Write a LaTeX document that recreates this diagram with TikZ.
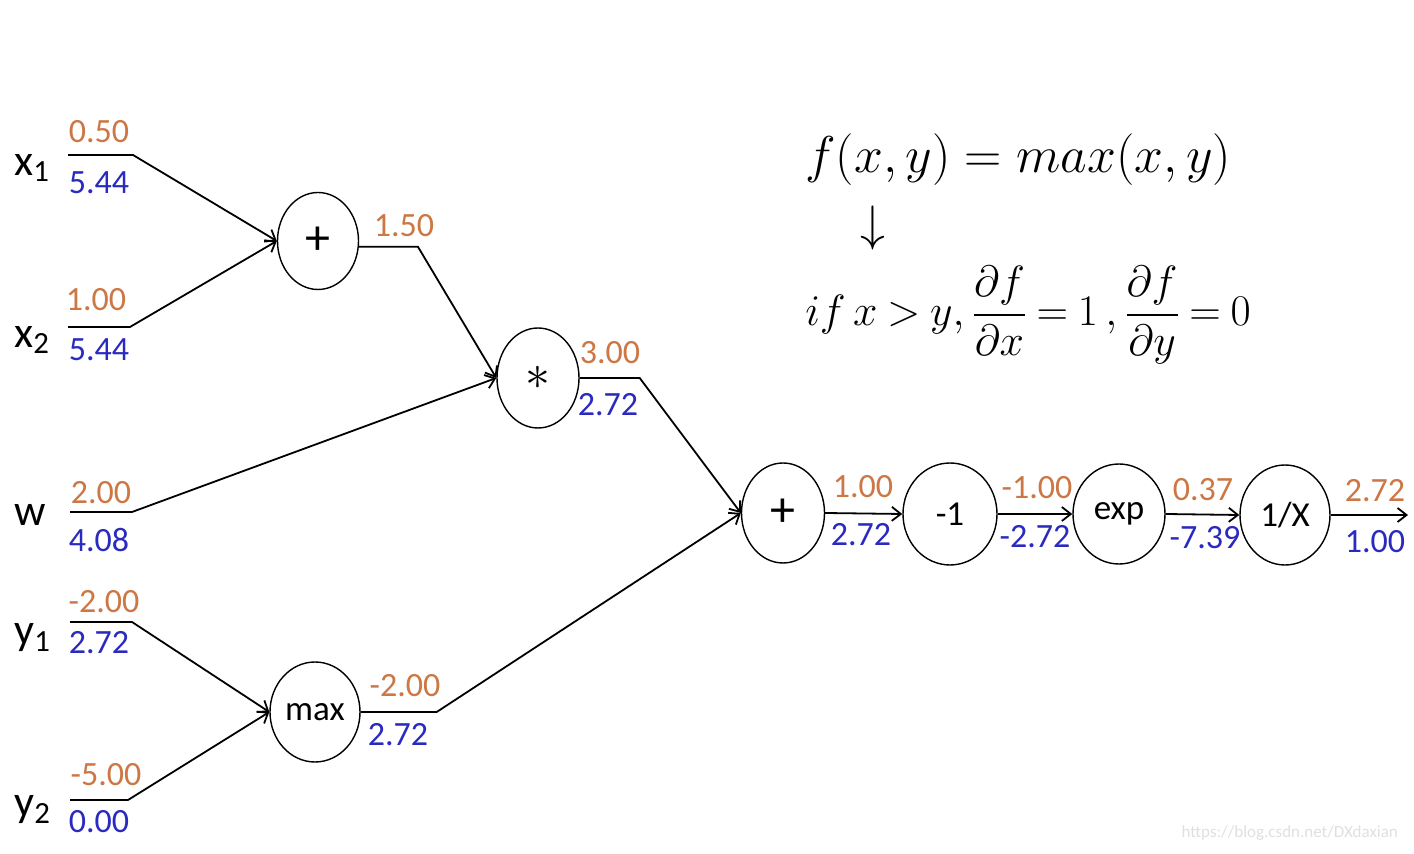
\documentclass[tikz,border=0pt]{standalone}
\usepackage{fontspec}
\setmainfont{Carlito}
\usepackage{amsmath}
\usetikzlibrary{arrows.meta,positioning,shapes.geometric}
\definecolor{fwd}{HTML}{CC7744}
\definecolor{bwd}{HTML}{2A2AC0}

\begin{document}
\begin{tikzpicture}[
  x=0.5pt, y=-0.5pt,
  op/.style={draw, ellipse, line width=0.7pt, minimum width=41pt, minimum height=50pt, inner sep=0pt, font=\fontsize{17.5}{19}\selectfont},
  big/.style={font=\fontsize{25}{27}\selectfont},
  fv/.style={text=fwd, font=\fontsize{17}{19}\selectfont, inner sep=0pt},
  bv/.style={text=bwd, font=\fontsize{17}{19}\selectfont, inner sep=0pt},
  var/.style={anchor=west, font=\fontsize{22}{24}\selectfont, inner sep=0pt},
  eq/.style={anchor=west, font=\fontsize{24.88}{30}\selectfont, inner sep=0pt, transform shape},
  arr/.style={-{Straight Barb[length=4.5pt, width=7pt]}, line width=0.9pt}
]
\useasboundingbox[fill=white] (0,0) rectangle (1414,854);

% operation nodes
\node[op, big, minimum width=40.5pt, minimum height=48.5pt] (add1) at (318,241) {+};
\node[op, big] (mul) at (538,378) {$*$};
\node[op, minimum width=45pt] (mx) at (315,712) {max};
\node[op, big, minimum width=41.5pt] (add2) at (783,513) {+};
\node[op, minimum width=47pt, minimum height=51pt] (neg) at (950,514) {-1};
\node[op, minimum width=46pt] (ex) at (1119,514) {exp};
\node[op, minimum width=45pt] (inv) at (1285,515) {1/X};
\coordinate (out) at (1408,515);

% inputs
\node[var] (x1) at (14,168) {x\textsubscript{1}};
\node[var] (x2) at (14,340) {x\textsubscript{2}};
\node[var] (w) at (14,515) {w};
\node[var] (y1) at (14,638) {y\textsubscript{1}};
\node[var] (y2) at (14,810) {y\textsubscript{2}};
\coordinate (x1s) at (68,155);
\coordinate (x2s) at (68,327);
\coordinate (ws) at (70,512);
\coordinate (y1s) at (70,622);
\coordinate (y2s) at (70,800);

% wires
\draw[arr] (x1s) -- ++(65,0) -- (add1.west);
\draw[arr] (x2s) -- ++(62,0) -- (add1.west);
\draw[arr] (ws) -- ++(62,0) -- (mul.west);
\draw[arr] (y1s) -- ++(62,0) -- (mx.west);
\draw[arr] (y2s) -- ++(58,0) -- (mx.west);
\draw[arr] (add1.-8) -- ++(59,0) -- (mul.west);
\draw[arr] (mul.east) -- ++(60,0) -- (add2.west);
\draw[arr] (mx.east) -- ++(76,0) -- (add2.west);
\draw[arr] (add2.east) -- (neg.west);
\draw[arr] (neg.east) -- (ex.west);
\draw[arr] (ex.east) -- (inv.west);
\draw[arr] (inv.east) -- (out);

% forward / backward values
\node[fv] (fx1) at (99,132) {0.50};
\node[bv] (gx1) at (99,183) {5.44};
\node[fv] (fx2) at (96,300) {1.00};
\node[bv] (gx2) at (99,350) {5.44};
\node[fv] (fw) at (101,493) {2.00};
\node[bv] (gw) at (99,540) {4.08};
\node[fv] (fy1) at (104,602) {-2.00};
\node[bv] (gy1) at (99,643) {2.72};
\node[fv] (fy2) at (106,775) {-5.00};
\node[bv] (gy2) at (99,822) {0.00};
\node[fv] (fadd1) at (404,226) {1.50};
\node[fv] (fmul) at (610,353) {3.00};
\node[bv] (gmul) at (608,405) {2.72};
\node[fv] (fmx) at (405,686) {-2.00};
\node[bv] (gmx) at (398,735) {2.72};
\node[fv] (fadd2) at (863,487) {1.00};
\node[bv] (gadd2) at (861,535) {2.72};
\node[fv] (fneg) at (1037,488) {-1.00};
\node[bv] (gneg) at (1035,537) {-2.72};
\node[fv] (fex) at (1203,490) {0.37};
\node[bv] (gex) at (1205,538) {-7.39};
\node[fv] (finv) at (1375,491) {2.72};
\node[bv] (ginv) at (1375,542) {1.00};

% max rule
\node[eq, scale=1.04] (fdef) at (805,160) {$f(x,y)=max(x,y)$};
\node[eq, anchor=center] (darr) at (873,228) {$\downarrow$};
\node[eq, scale=0.88] (rule) at (805,315)
  {\thickmuskip=4mu $if\,x>y,\dfrac{\partial f}{\partial x}=1\,,\dfrac{\partial f}{\partial y}=0$};

\node[text=black!12, font=\fontsize{8.5}{10}\selectfont, anchor=east] (wm) at (1405,833) {https://blog.csdn.net/DXdaxian};
\end{tikzpicture}
\end{document}
